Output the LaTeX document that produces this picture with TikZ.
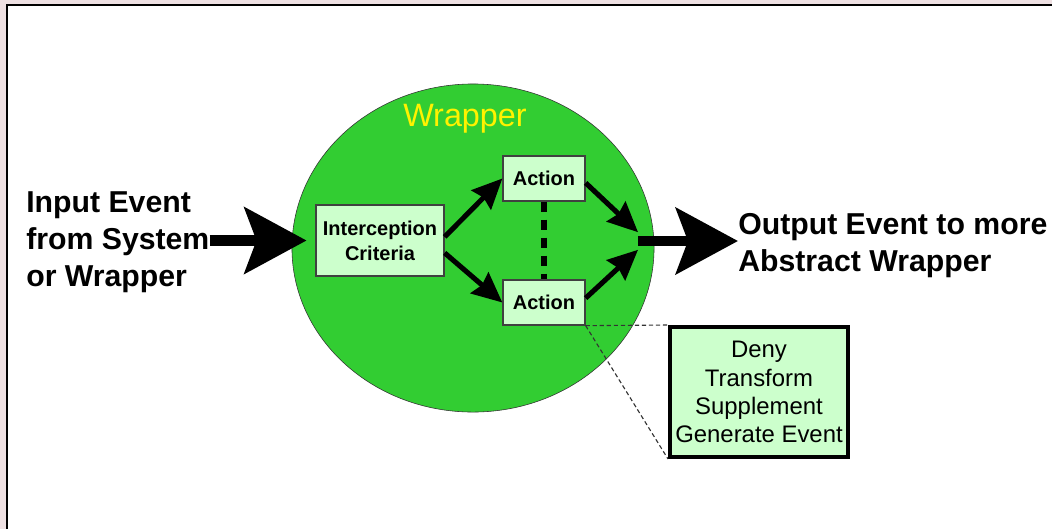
\documentclass[tikz,border=0pt]{standalone}
\usepackage{fontspec}
\setmainfont{Liberation Sans}
\usetikzlibrary{shapes.geometric,arrows.meta}
\definecolor{wrapgreen}{RGB}{50,205,50}
\definecolor{boxgreen}{RGB}{204,255,204}
\definecolor{edgepink}{RGB}{238,224,226}
\begin{document}
\begin{tikzpicture}[x=0.025cm, y=-0.025cm,
    box/.style={draw=black!75, line width=0.9pt, fill=boxgreen, align=center, inner sep=0pt,
      font=\bfseries\fontsize{14.2}{17.8}\selectfont},
    flow/.style={-{Stealth[length=0.75cm,width=0.68cm,inset=0.08cm]}, line width=3.6pt},
    bigflow/.style={-{Stealth[length=1.55cm,width=1.65cm,inset=0.3cm]}, line width=7.5pt},
    event/.style={font=\bfseries\fontsize{21.5}{26.3}\selectfont, align=left, inner sep=0pt}]
    \useasboundingbox (0,0) rectangle (1052,529);
    \fill[edgepink] (0,0) rectangle (1052,529);
    \fill[white] (7,5) rectangle (1052,529);
    \draw[line width=0.9pt] (7,529) -- (7,5) -- (1052,5);

    \node[ellipse, draw=black!80, fill=wrapgreen, minimum width=9.05cm, minimum height=8.2cm, inner sep=0pt] (wrapper) at (473,248) {};
    \node[text=yellow, font=\fontsize{23}{27}\selectfont, inner sep=0pt] (wrapname) at (465,119) {Wrapper};

    \node[box, minimum width=3.2cm, minimum height=1.775cm] (interc) at (380,240.5) {Interception\\Criteria};
    \node[box, minimum width=2.05cm, minimum height=1.125cm] (act1) at (544,178.5) {Action};
    \node[box, minimum width=2.05cm, minimum height=1.125cm] (act2) at (544,302.5) {Action};
    \node[draw=black, line width=2.8pt, fill=boxgreen, minimum width=4.45cm, minimum height=3.25cm, inner sep=0pt,
      align=center, font=\fontsize{17}{20}\selectfont] (detail) at (759,392) {Deny\\Transform\\Supplement\\Generate Event};

    \node[event, anchor=west] (inlabel) at (26,242) {Input Event\\from System\\or Wrapper};
    \node[event, anchor=west] (outlabel) at (738,246) {Output Event to more\\Abstract Wrapper};
    \coordinate (merge) at (638,241);

    \draw[bigflow, shorten >=0.22cm] (inlabel.east |- interc.west) -- (interc.west);
    \draw[flow] ([yshift=0.09cm]interc.east) -- (act1.west);
    \draw[flow] ([yshift=-0.31cm]interc.east) -- (act2.west);
    \draw[flow] ([yshift=-0.11cm]act1.east) -- ([yshift=0.22cm]merge);
    \draw[flow] ([yshift=0.11cm]act2.east) -- ([yshift=-0.22cm]merge);
    \draw[line width=4.2pt, dash pattern=on 0.25cm off 0.2cm] (act1.south) -- (act2.north);
    \draw[bigflow] (merge) -- (merge -| outlabel.west);
    \draw[black!80, line width=0.8pt, dash pattern=on 3pt off 2pt] (act2.south east) -- (detail.north west);
    \draw[black!80, line width=0.8pt, dash pattern=on 3pt off 2pt] (act2.south east) -- (detail.south west);
\end{tikzpicture}
\end{document}
